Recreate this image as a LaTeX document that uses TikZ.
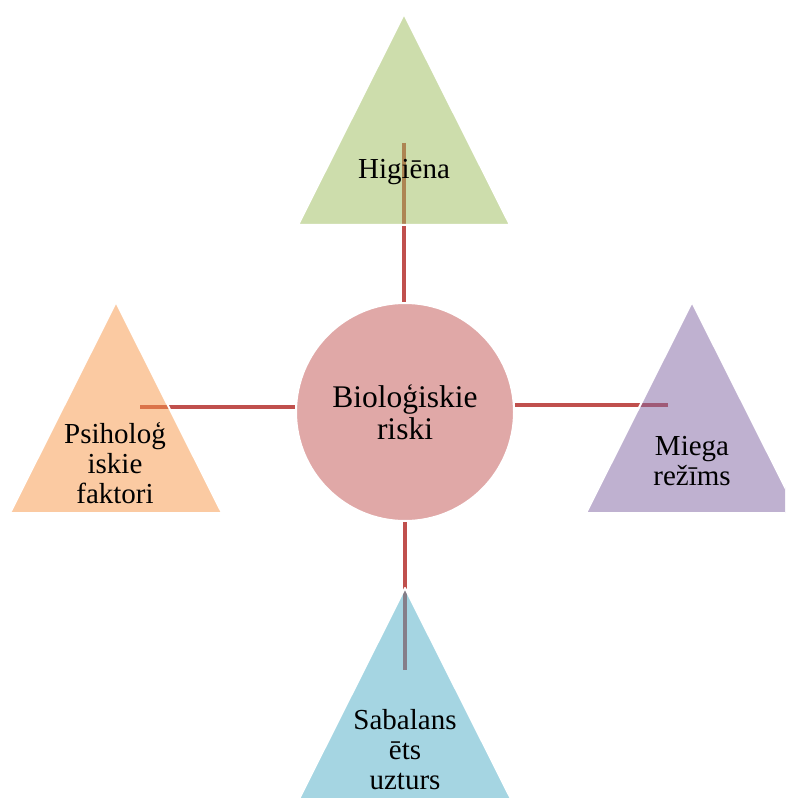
\documentclass[tikz,border=0pt]{standalone}
\usepackage{fontspec}
\setmainfont{Liberation Serif}
\usetikzlibrary{positioning}

\definecolor{linkred}{HTML}{C0504D}
\definecolor{circred}{HTML}{E0A8A7}
\definecolor{topgreen}{HTML}{9BBB59}
\definecolor{leftorange}{HTML}{F79646}
\definecolor{rightpurple}{HTML}{8064A2}
\definecolor{bottomblue}{HTML}{4BACC6}

\begin{document}
\begin{tikzpicture}[
		    x=1pt, y=-1pt,
		    link/.style={draw=linkred, line width=4pt},
		    tri/.style={fill opacity=0.5, draw=white, line width=2pt, line join=round},
		    tritext/.style={align=center, inner sep=0pt, font=\fontsize{29}{30}\selectfont}
		]
		    \clip (0,0) rectangle (785,799);

		    \node[circle, minimum size=218pt, fill=circred, draw=white, line width=2pt,
		          align=center, font=\fontsize{31.5}{32}\selectfont] (risks) at (405,412) {Bioloģiskie\\riski};

		    \coordinate (topend) at (404,143);
		    \coordinate (leftend) at (140,407);
		    \coordinate (rightend) at (668,405);
		    \coordinate (bottomend) at (405,670);

		    \draw[link] (topend) -- (topend |- risks.north);
		    \draw[link] (leftend) -- (leftend -| risks.west);
		    \draw[link] (rightend) -- (rightend -| risks.east);
		    \draw[link] (bottomend) -- (bottomend |- risks.south);

		    \foreach \ax/\ay/\col in {404/14/topgreen, 116/302/leftorange, 692/302/rightpurple, 405/588/bottomblue} {
			\filldraw[tri, fill=\col] (\ax,\ay) -- ++(106,211) -- ++(-212,0) -- cycle;
		    }

		    \node[tritext] (hygiene) at (404,172) {Higiēna};
		    \node[tritext] (psycho) at (115,463) {Psiholoģ\\iskie\\faktori};
		    \node[tritext] (sleep) at (692,461) {Miega\\režīms};
		    \node[tritext] (diet) at (405,750) {Sabalans\\ēts\\uzturs};
		\end{tikzpicture}
\end{document}
